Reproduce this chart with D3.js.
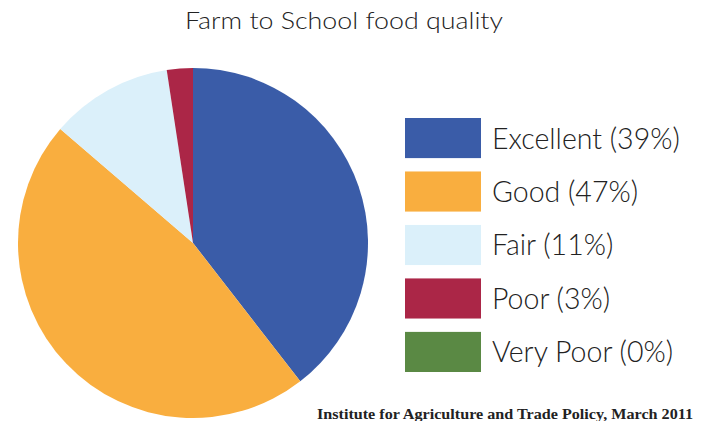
<!DOCTYPE html>
<html>
    <head>
        <style>
         body {
             margin: 0;
             background-color: #ffffff;
         }
         .title {
             font-family: Lato, "Open Sans", sans-serif;
             font-weight: 300;
             font-size: 24px;
             fill: #222222;
         }
         .legend-label {
             font-family: Lato, "Open Sans", sans-serif;
             font-weight: 300;
             font-size: 28.5px;
             fill: #222222;
         }
         .source {
             font-family: "Liberation Serif", "DejaVu Serif", serif;
             font-weight: bold;
             font-size: 14px;
             fill: #222222;
         }
        </style>
        <script src="https://d3js.org/d3.v7.min.js"></script>
    </head>
    <body>
        <svg id="chart" width="701" height="421"></svg>
        <script>
         var categories = ["Excellent", "Good", "Fair", "Poor", "Very Poor"];
         var values = [39.5, 46.8, 11.3, 2.4, 0];
         var pctLabels = ["39%", "47%", "11%", "3%", "0%"];
         var colors = ["#3a5ca8", "#f9ae3f", "#dbf0fa", "#ab2647", "#5a8944"];

         var svg = d3.select("#chart");

         svg.append("text")
            .attr("class", "title")
            .attr("x", 185)
            .attr("y", 29)
            .attr("textLength", 318)
            .attr("lengthAdjust", "spacingAndGlyphs")
            .text("Farm to School food quality");

         var data = categories.map(function(c, i) {
             return {name: c, value: values[i], pct: pctLabels[i], color: colors[i]};
         });

         var pie = d3.pie()
                     .sort(null)
                     .value(function(d) { return d.value; });

         var arc = d3.arc()
                     .innerRadius(0)
                     .outerRadius(175);

         var g = svg.append("g")
                    .attr("transform", "translate(193,243)");

         g.selectAll("path")
          .data(pie(data).filter(function(d) { return d.value > 0; }))
          .enter().append("path")
          .attr("d", arc)
          .attr("fill", function(d) { return d.data.color; });

         // legend
         var y = d3.scaleBand()
                   .domain(categories)
                   .range([118, 372])
                   .paddingInner(0.25)
                   .paddingOuter(0);

         var legend = svg.append("g");

         var rows = legend.selectAll("g")
                          .data(data)
                          .enter().append("g")
                          .attr("transform", function(d) { return "translate(405," + y(d.name) + ")"; });

         rows.append("rect")
             .attr("width", 76)
             .attr("height", y.bandwidth())
             .attr("fill", function(d) { return d.color; });

         rows.append("text")
             .attr("class", "legend-label")
             .attr("x", 87)
             .attr("y", y.bandwidth() / 2 + 10.5)
             .text(function(d) { return d.name + " (" + d.pct + ")"; });

         svg.append("text")
            .attr("class", "source")
            .attr("x", 317)
            .attr("y", 419)
            .attr("textLength", 376)
            .attr("lengthAdjust", "spacingAndGlyphs")
            .text("Institute for Agriculture and Trade Policy, March 2011");
        </script>
    </body>
</html>
